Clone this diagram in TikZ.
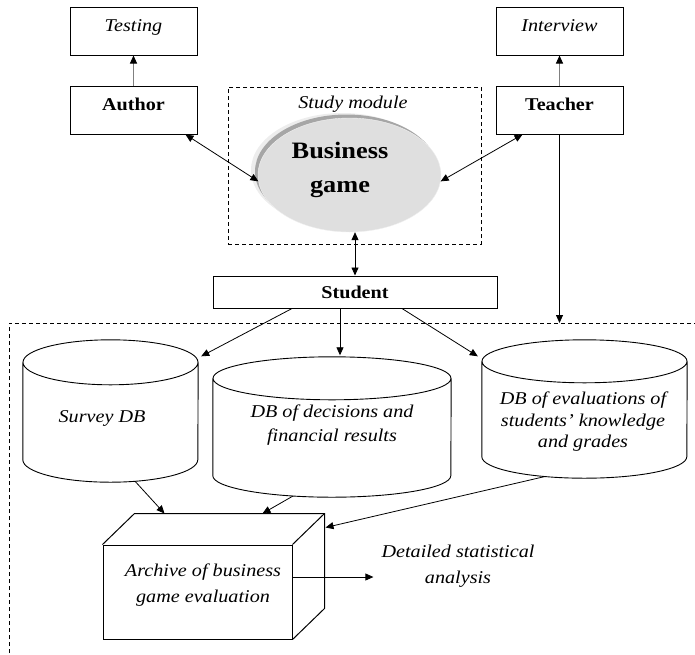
\documentclass[tikz,border=0pt]{standalone}
\usepackage{fontspec}
\setmainfont{Liberation Serif}[FakeStretch=1.12]
\usetikzlibrary{arrows.meta, shapes.geometric, shadows, calc}

\tikzset{
  arr/.style={-{Triangle[length=8pt,width=7pt]}, line width=0.8pt},
  darr/.style={{Triangle[length=8pt,width=7pt]}-{Triangle[length=8pt,width=7pt]}, line width=0.8pt},
  greyarr/.style={-{Triangle[length=8pt,width=7pt,color=black]}, line width=1pt, gray},
  dashline/.style={line width=0.8pt, dash pattern=on 4pt off 3pt},
  itxt/.style={font=\fontsize{18}{23.5}\selectfont\itshape},
  btxt/.style={font=\fontsize{18}{23.5}\selectfont\bfseries},
  topbox/.style={draw, line width=1pt, minimum width=127pt, minimum height=48pt,
                 inner sep=6pt, text height=18pt, text depth=18pt},
  drumbody/.style={inner sep=0pt},
}
% outline of a data base drum around the body node #1
\newcommand\drum[3]{%
  \draw[line width=0.9pt] (#1.north) ellipse [x radius=#2, y radius=#3]
    (#1.north west) -- (#1.south west)
    arc[start angle=180, end angle=360, x radius=#2, y radius=#3] -- (#1.north east);}

\begin{document}
\begin{tikzpicture}[x=1pt, y=-1pt]
  \useasboundingbox (0,0) rectangle (695,654);

  % roles and their tools
  \node[topbox, itxt] (testing)   at (133.5,31)  {Testing};
  \node[topbox, btxt] (author)    at (133.5,110) {Author};
  \node[topbox, itxt] (interview) at (559.5,31)  {Interview};
  \node[topbox, btxt] (teacher)   at (559.5,110) {Teacher};

  % study module
  \node[draw, dashline, minimum width=253pt, minimum height=157pt] (module) at (354.5,165.5) {};
  \node[itxt, anchor=base] (modlabel) at (353,108) {Study module};
  \node[ellipse, fill=gray!25, draw=gray!12, minimum width=183pt, minimum height=114pt,
        general shadow={shadow xshift=-7pt, shadow yshift=5pt, fill=gray!14},
        general shadow={shadow xshift=-3pt, shadow yshift=3.5pt, fill=gray!70}]
        (game) at (349.5,175) {};
  \node[align=center, font=\fontsize{23.5}{34}\selectfont\bfseries] (gametxt) at (340,170) {Business\\game};

  \node[draw, line width=1pt, minimum width=284pt, minimum height=32pt, inner sep=6pt,
        text height=16pt, text depth=4pt, btxt] (student) at (355,292) {Student};

  % data area
  \coordinate (zone) at (9,323);
  \draw[dashline] (9,660) -- (zone) -- (700,323);

  \node[drumbody, minimum width=175pt, minimum height=97pt] (survey)    at (110.5,411) {};
  \node[drumbody, minimum width=238pt, minimum height=97pt] (decisions) at (332,427)   {};
  \node[drumbody, minimum width=205pt, minimum height=95pt] (evals)     at (584.5,409) {};
  \drum{survey}{87.5pt}{22.5pt}
  \drum{decisions}{119pt}{21.5pt}
  \drum{evals}{102.5pt}{21.5pt}
  \node[itxt] (surveytxt) at (102,418) {Survey DB};
  \node[itxt, align=center] (decisionstxt) at (332,425) {DB of decisions and\\financial results};
  \node[itxt, align=center, font=\fontsize{18}{21.5}\selectfont\itshape] (evalstxt) at (583,422)
        {DB of evaluations of\\students' knowledge\\and grades};

  \node[draw, line width=1pt, minimum width=189pt, minimum height=94pt] (archive) at (197.5,592) {};
  \draw[line width=1pt] (archive.north west) -- ++(32,-31) -| ($(archive.south east)+(32,-31)$) -- (archive.south east);
  \draw[line width=1pt] (archive.north east) -- ++(32,-31);
  \node[itxt, align=center, font=\fontsize{18}{26}\selectfont\itshape] (archivetxt) at (203,585)
        {Archive of business\\game evaluation};

  \node[itxt, align=center, inner xsep=8pt, font=\fontsize{18}{26}\selectfont\itshape] (detail) at (458,566)
        {Detailed statistical\\analysis};

  % connectors
  \draw[greyarr] (author.north) -- (testing.south);
  \draw[greyarr] (teacher.north) -- (interview.south);
  \draw[darr] ([xshift=-12pt]author.south east) -- (game.184);
  \draw[darr] ([xshift=27pt]teacher.south west) -- (game.-4);
  \draw[darr] (student.north) -- (student.north |- game.south);
  \draw[arr] (teacher.south) -- (teacher.south |- zone);

  \draw[arr] ([xshift=-63pt]student.south) -- ($(survey.north east)+(3,-6)$);
  \draw[arr] ([xshift=-15pt]student.south) -- ($(decisions.north)+(8,-23)$);
  \draw[arr] ([xshift=47pt]student.south) -- ($(evals.north west)+(-4,-5)$);

  \draw[arr] ($(survey.south)+(24.5,21.5)$) -- ($(archive.north west)+(62,-31)$);
  \draw[arr] ($(decisions.south)+(-39,20.3)$) -- ($(archive.north west)+(160,-31)$);
  \draw[arr] ($(evals.south)+(-39.5,19.8)$) -- ($(archive.north east)+(33,-17)$);
  \draw[arr] ([yshift=15pt]archive.east) -- ([yshift=15pt]archive.east -| detail.west);
\end{tikzpicture}
\end{document}
